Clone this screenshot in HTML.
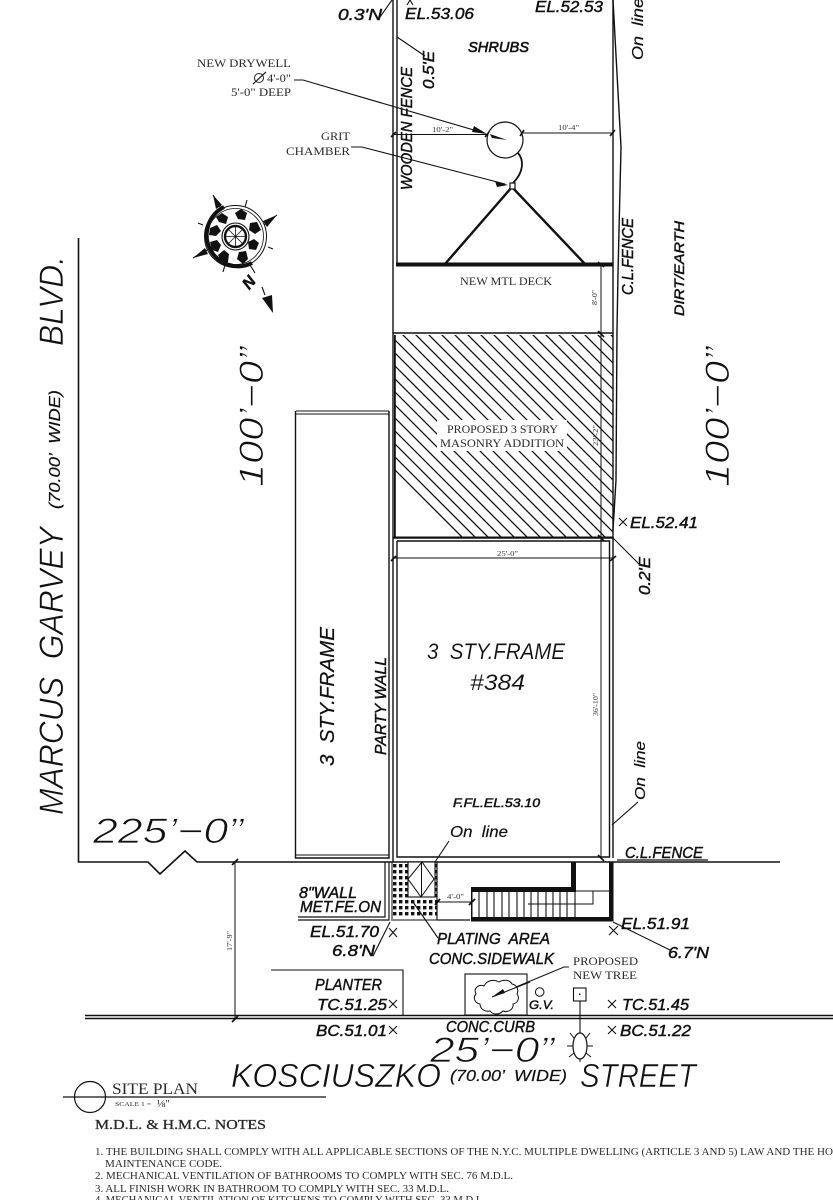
<!DOCTYPE html>
<html><head><meta charset="utf-8"><title>Site Plan</title>
<style>
html,body{margin:0;padding:0;background:#fff;width:833px;height:1200px;overflow:hidden}
svg{display:block}
text{white-space:pre}
.s{font-family:"Liberation Serif",serif;fill:#2a2a2a}
.i{font-family:"Liberation Sans",sans-serif;font-style:italic;fill:#111;stroke:#111;stroke-width:.45}
.l{font-family:"Liberation Sans",sans-serif;font-style:italic;fill:#111;stroke:#fff;stroke-width:.6}
.d{font-family:"Liberation Serif",serif;fill:#333;font-size:7px}
</style></head><body>
<svg width="833" height="1200" viewBox="0 0 833 1200" xmlns="http://www.w3.org/2000/svg">
<defs>
<clipPath id="hc"><rect x="395" y="335" width="218" height="202"/></clipPath>
<pattern id="dots" x="393" y="864" width="6" height="6" patternUnits="userSpaceOnUse"><rect width="3.4" height="3.4" fill="#111"/></pattern>
</defs>
<rect width="833" height="1200" fill="#fff"/>

<!-- property lines -->
<g fill="none" stroke="#111" stroke-width="1.4">
<path d="M393 0V538M397 0V264"/>
<path d="M613 0V333"/>
<path d="M613 0L621 147L618 273L617 330L616 480L613 530"/>
<path d="M393 333H613"/>
<path d="M613 333V538"/>
<path d="M78.500 238V862H148L160 874L185 851L197 862H780" stroke-width="1.600"/>
<path d="M296 411H389M296 414H389" stroke-width="1"/>
<path d="M295.500 411V858H389V411"/>
<path d="M295 855H389" stroke-width="1"/>
<path d="M393 538V862M397 541V857H609.500V541H397"/>
<path d="M393 538H613V858"/>
<path d="M85 1015.500H833M85 1018.500H833" stroke-width="1.500"/>
</g>

<!-- hatch -->
<g clip-path="url(#hc)" stroke="#111" stroke-width="1.300">
<path d="M125 200L505 580M138 200L518 580M151 200L531 580M164 200L544 580M177 200L557 580M190 200L570 580M203 200L583 580M216 200L596 580M229 200L609 580M242 200L622 580M255 200L635 580M268 200L648 580M281 200L661 580M294 200L674 580M307 200L687 580M320 200L700 580M333 200L713 580M346 200L726 580M359 200L739 580M372 200L752 580M385 200L765 580M398 200L778 580M411 200L791 580M424 200L804 580M437 200L817 580M450 200L830 580M463 200L843 580M476 200L856 580M489 200L869 580M502 200L882 580M515 200L895 580M528 200L908 580"/>
</g>
<rect x="394" y="335" width="1.800" height="202" fill="#111"/>
<rect x="437" y="420" width="130" height="31" fill="#fff"/>
<rect x="393" y="536.500" width="220" height="1.500" fill="#111"/>

<!-- deck and triangle -->
<rect x="396" y="262.500" width="217" height="4" fill="#111"/>
<path d="M445 264L512 187L585 264" fill="none" stroke="#111" stroke-width="2.400"/>
<rect x="510" y="183" width="5" height="6" fill="#fff" stroke="#111" stroke-width="1.200"/>
<circle cx="505" cy="140" r="18" fill="#fff" stroke="#111" stroke-width="1.200"/>
<path d="M518 153C524 160 524 172 513 183" fill="none" stroke="#111" stroke-width="1.800"/>

<!-- dimension lines -->
<g fill="none" stroke="#111" stroke-width="1">
<path d="M394 134.500H487M522 133H613"/>
<path d="M601 266V858"/>
<path d="M393 558H613"/>
<path d="M235 862V1019"/>
<path d="M391 137l5 -5M485 137l4 -5M520 136l4 -6M610 136l5 -6M598 262l6 5M598 331l6 6M598 535l6 6M391 561l5 -5M610 561l6 -5M232 865l6 -6M232 1022l6 -6M598 855l6 6" stroke-width="1.600"/>
</g>
<!-- leaders -->
<g fill="none" stroke="#111" stroke-width="1.100">
<path d="M294 80L303 80L484 133"/>
<path d="M351 147L362 147L505 184"/>
<path d="M397 37L425 56"/>
<path d="M380 17L392 0"/>
<path d="M407 5L410 0L413 5"/>
<path d="M613 538L640 565"/>
<path d="M449 841L435 862"/>
<path d="M612 825L638 802"/>
<path d="M390 922L373 956"/>
<path d="M413 902L438 938"/>
<path d="M613 922L670 950"/>
<path d="M492 997L564 967H569"/>
</g>
<path d="M487 134L472 132L474 126Z" fill="#111"/>
<path d="M508 185L495 181L497 187Z" fill="#111"/>
<path d="M507 140L490 134L492 138Z" fill="#111"/>

<!-- sidewalk block -->
<rect x="392" y="862" width="45" height="56" fill="url(#dots)"/>
<rect x="408" y="862" width="27" height="35" fill="#fff" stroke="#111" stroke-width="1.100"/>
<path d="M422 862L408 879L421 897L434 879ZM421.500 862V897" fill="none" stroke="#111" stroke-width="1"/>
<path d="M385 862V917H298M389 862V920H298" fill="none" stroke="#111" stroke-width="1.200"/>
<path d="M392 862V919M391 920H437" fill="none" stroke="#111" stroke-width="1"/>
<path d="M437 862V920M437 920H470" fill="none" stroke="#111" stroke-width="1.200"/>
<path d="M438 902H472" stroke="#111" stroke-width="1"/>
<path d="M435 905l5 -6M469 905l6 -6" stroke="#111" stroke-width="1.800"/>

<!-- stairs -->
<rect x="571" y="862" width="5" height="30" fill="#111"/>
<rect x="471" y="887" width="105" height="5" fill="#111"/>
<rect x="471" y="917" width="142" height="4.500" fill="#111"/>
<rect x="471" y="887" width="1.500" height="32" fill="#111"/>
<rect x="609" y="862" width="4.500" height="59.500" fill="#111"/>
<path d="M479 892V917M487 892V917M494 892V917M502 892V917M509 892V917M517 892V917M524 892V917M531 892V917M538 892V917M546 892V917M553 892V917M560 892V917M567 892V917M575 892V917" stroke="#111" stroke-width="1.100"/>
<path d="M575 891H609M593 891V904H528" fill="none" stroke="#111" stroke-width="1"/>

<!-- planter etc -->
<path d="M271 970H403V1015" fill="none" stroke="#111" stroke-width="1.100"/>
<rect x="465" y="974" width="62" height="41" fill="none" stroke="#111" stroke-width="1.100"/>
<path d="M480 1004c-6-1-7-7-4-10c-3-6 3-10 8-8c3-6 10-7 15-4c5-3 11-2 13 2c5 1 7 6 5 10c3 4 1 9-4 10c1 5-5 9-10 7c-4 4-10 4-13 0c-5 1-10-2-10-7z" fill="#fff" stroke="#111" stroke-width="1"/>
<path d="M492 997L530 982" stroke="#111" stroke-width="1.100"/>
<path d="M492 997L505 993L503 989Z" fill="#111"/>
<circle cx="539.700" cy="992" r="4.300" fill="#fff" stroke="#111" stroke-width="1"/>
<rect x="573.500" y="988" width="12.500" height="13" fill="#fff" stroke="#111" stroke-width="1.100"/>
<rect x="579" y="993.500" width="1.500" height="1.500" fill="#111"/>
<path d="M580 1001V1034" stroke="#111" stroke-width="1.100"/>
<ellipse cx="580" cy="1046" rx="7" ry="13" fill="#fff" stroke="#111" stroke-width="1.200"/>
<path d="M574 1038l-4-5M586 1038l4-5M574 1053l-5 4M586 1053l5 4M580 1059v3M573 1046h-6M587 1046h6" stroke="#111" stroke-width="1"/>

<!-- X marks -->
<g fill="none" stroke="#111" stroke-width="1.100">
<path d="M389 928l8 9m0-9l-8 9"/>
<path d="M609 926l9 9m0-9l-9 9"/>
<path d="M389 1000l8 8m0-8l-8 8"/>
<path d="M389 1026l8 8m0-8l-8 8"/>
<path d="M608 1000l8 8m0-8l-8 8"/>
<path d="M608 1026l8 8m0-8l-8 8"/>
<path d="M619 518l8 8m0-8l-8 8"/>
</g>

<!-- compass -->
<g>
<circle cx="235.500" cy="236.500" r="31" fill="none" stroke="#111" stroke-width="1"/>
<path d="M252 263A31 31 0 1 1 224 207" fill="none" stroke="#111" stroke-width="4"/>
<circle cx="235.500" cy="236.500" r="28" fill="none" stroke="#111" stroke-width=".8"/>
<circle cx="235.500" cy="236.500" r="13.500" fill="none" stroke="#111" stroke-width="1.100"/>
<circle cx="235.500" cy="236.500" r="10.500" fill="none" stroke="#111" stroke-width="2.400"/>
<path d="M235.500 226V247M225 236.500H246M228 229L243 244M243 229L228 244" stroke="#111" stroke-width=".8"/>
<g fill="#111">
<path d="M222 213l6 4l-2 7l-7-2l-3-5z"/><path d="M241 209l6 4l-2 7l-7-1l-3-6z"/><path d="M257 222l4 8l-6 4l-6-4l1-7z"/><path d="M259 243l-3 7l-7-1l-1-7l6-3z"/><path d="M248 259l-5 5l-6-5l2-7l7-1z"/><path d="M228 262l-7 0l-3-7l6-5l5 4z"/><path d="M212 250l-2-8l7-2l4 5l-3 7z"/><path d="M210 228l7-3l4 6l-5 5l-7-1z"/>
</g>
<path d="M213 195L222 210M277 215L264 225M193 258L207 250M247 200L245 207M198 223L203 225M268 247L273 249M225 265L223 272M250 265L255 273M262 287L265 295" stroke="#111" stroke-width="1.100"/>
<path d="M213 195L222 205L216 209Z M277 215L263 221L267 227Z M193 258L205 248L208 254Z" fill="#111"/>
<path d="M262 298L272 295L273 313Z" fill="#111"/>
<text class="i" font-size="16" font-weight="bold" text-anchor="middle" transform="translate(253,286) rotate(-50)">N</text>
</g>

<!-- serif labels -->
<g class="s" font-size="11.200">
<text x="197" y="67" textLength="94" lengthAdjust="spacingAndGlyphs">NEW DRYWELL</text>
<text x="267" y="82" textLength="24" lengthAdjust="spacingAndGlyphs">4'-0"</text>
<text x="231" y="96" textLength="60" lengthAdjust="spacingAndGlyphs">5'-0" DEEP</text>
<text x="321" y="140" textLength="29" lengthAdjust="spacingAndGlyphs">GRIT</text>
<text x="286" y="155" textLength="64" lengthAdjust="spacingAndGlyphs">CHAMBER</text>
<text x="460" y="285" textLength="92" lengthAdjust="spacingAndGlyphs">NEW MTL DECK</text>
<text x="447" y="433" textLength="111" lengthAdjust="spacingAndGlyphs">PROPOSED 3 STORY</text>
<text x="440" y="447" textLength="124" lengthAdjust="spacingAndGlyphs">MASONRY ADDITION</text>
<text x="573" y="965" textLength="65" lengthAdjust="spacingAndGlyphs">PROPOSED</text>
<text x="573" y="979" textLength="64" lengthAdjust="spacingAndGlyphs">NEW TREE</text>
</g>
<circle cx="259" cy="78" r="4.500" fill="none" stroke="#222" stroke-width="1"/>
<path d="M253 84L266 72" stroke="#222" stroke-width="1.200"/>

<!-- dim text -->
<g class="d">
<text x="432" y="132" textLength="21" lengthAdjust="spacingAndGlyphs">10'-2"</text>
<text x="558" y="130" textLength="21" lengthAdjust="spacingAndGlyphs">10'-4"</text>
<text x="497" y="556" textLength="21" lengthAdjust="spacingAndGlyphs">25'-0"</text>
<text x="447" y="899" textLength="17" lengthAdjust="spacingAndGlyphs">4'-0"</text>
<text transform="translate(597,305) rotate(-90)" textLength="15" lengthAdjust="spacingAndGlyphs">8'-0"</text>
<text transform="translate(598,446) rotate(-90)" textLength="21" lengthAdjust="spacingAndGlyphs">23'-2"</text>
<text transform="translate(598,716) rotate(-90)" textLength="23" lengthAdjust="spacingAndGlyphs">36'-10"</text>
<text transform="translate(232,951) rotate(-90)" textLength="20" lengthAdjust="spacingAndGlyphs">17'-9"</text>
</g>

<!-- italic labels medium -->
<g class="i" font-size="16">
<text x="338" y="20" textLength="44" lengthAdjust="spacingAndGlyphs">0.3'N</text>
<text x="405" y="19" textLength="69" lengthAdjust="spacingAndGlyphs">EL.53.06</text>
<text x="535" y="12" textLength="68" lengthAdjust="spacingAndGlyphs">EL.52.53</text>
<text x="468" y="52" font-size="15" stroke-width=".6" textLength="61" lengthAdjust="spacingAndGlyphs">SHRUBS</text>
<text transform="translate(643,60) rotate(-90)" stroke-width=".2" textLength="62" lengthAdjust="spacingAndGlyphs">On  line</text>
<text transform="translate(412,190) rotate(-90)" textLength="123" lengthAdjust="spacingAndGlyphs">WOODEN FENCE</text>
<text transform="translate(434,89) rotate(-90)" textLength="38" lengthAdjust="spacingAndGlyphs">0.5'E</text>
<text transform="translate(633,295) rotate(-90)" textLength="77" lengthAdjust="spacingAndGlyphs">C.L.FENCE</text>
<text transform="translate(684,316) rotate(-90)" font-size="14" textLength="95" lengthAdjust="spacingAndGlyphs">DIRT/EARTH</text>
<text x="630" y="528" textLength="68" lengthAdjust="spacingAndGlyphs">EL.52.41</text>
<text transform="translate(650,595) rotate(-90)" textLength="38" lengthAdjust="spacingAndGlyphs">0.2'E</text>
<text transform="translate(386,755) rotate(-90)" textLength="98" lengthAdjust="spacingAndGlyphs">PARTY WALL</text>
<text x="453" y="807" font-size="12" stroke-width=".5" textLength="87" lengthAdjust="spacingAndGlyphs">F.FL.EL.53.10</text>
<text x="450" y="837" stroke-width=".2" textLength="58" lengthAdjust="spacingAndGlyphs">On  line</text>
<text transform="translate(645,800) rotate(-90)" font-size="15" stroke-width=".2" textLength="59" lengthAdjust="spacingAndGlyphs">On  line</text>
<text x="625" y="858" textLength="78" lengthAdjust="spacingAndGlyphs">C.L.FENCE</text>
<text x="299" y="898" textLength="58" lengthAdjust="spacingAndGlyphs">8"WALL</text>
<text x="300" y="912" textLength="81" lengthAdjust="spacingAndGlyphs">MET.FE.ON</text>
<text x="310" y="937" textLength="69" lengthAdjust="spacingAndGlyphs">EL.51.70</text>
<text x="332" y="956" textLength="43" lengthAdjust="spacingAndGlyphs">6.8'N</text>
<text x="437" y="944" textLength="113" lengthAdjust="spacingAndGlyphs">PLATING  AREA</text>
<text x="429" y="964" textLength="125" lengthAdjust="spacingAndGlyphs">CONC.SIDEWALK</text>
<text x="621" y="929" textLength="69" lengthAdjust="spacingAndGlyphs">EL.51.91</text>
<text x="668" y="958" textLength="41" lengthAdjust="spacingAndGlyphs">6.7'N</text>
<text x="315" y="990" textLength="67" lengthAdjust="spacingAndGlyphs">PLANTER</text>
<text x="317" y="1010" textLength="70" lengthAdjust="spacingAndGlyphs">TC.51.25</text>
<text x="316" y="1036" textLength="71" lengthAdjust="spacingAndGlyphs">BC.51.01</text>
<text x="446" y="1032" textLength="89" lengthAdjust="spacingAndGlyphs">CONC.CURB</text>
<text x="529" y="1009" font-size="12" textLength="25" lengthAdjust="spacingAndGlyphs">G.V.</text>
<text x="622" y="1010" textLength="67" lengthAdjust="spacingAndGlyphs">TC.51.45</text>
<text x="620" y="1036" textLength="71" lengthAdjust="spacingAndGlyphs">BC.51.22</text>
</g>
<path d="M617 860H708" stroke="#111" stroke-width="1.200"/>

<!-- big text -->
<g class="l">
<text transform="translate(334,766) rotate(-90)" font-size="20" stroke="#111" stroke-width=".2" textLength="139" lengthAdjust="spacingAndGlyphs">3  STY.FRAME</text>
<text x="427" y="659" font-size="22" stroke-width=".1" textLength="138" lengthAdjust="spacingAndGlyphs">3  STY.FRAME</text>
<text x="470" y="690" font-size="22" stroke-width=".1" textLength="55" lengthAdjust="spacingAndGlyphs">#384</text>
<text transform="translate(263,487) rotate(-90)" font-size="34" stroke-width=".8" textLength="140" lengthAdjust="spacingAndGlyphs">100’−0”</text>
<text transform="translate(729,487) rotate(-90)" font-size="34" stroke-width=".8" textLength="140" lengthAdjust="spacingAndGlyphs">100’−0”</text>
<text transform="translate(63,815) rotate(-90)" font-size="34" textLength="288" lengthAdjust="spacingAndGlyphs">MARCUS  GARVEY</text>
<text transform="translate(60,509) rotate(-90)" font-size="16" stroke="#111" stroke-width=".2" textLength="119" lengthAdjust="spacingAndGlyphs">(70.00’  WIDE)</text>
<text transform="translate(63,346) rotate(-90)" font-size="34" textLength="90" lengthAdjust="spacingAndGlyphs">BLVD.</text>
<text x="93" y="843" font-size="35" stroke-width=".8" textLength="150" lengthAdjust="spacingAndGlyphs">225’−0”</text>
<text x="430" y="1062" font-size="35" stroke-width=".8" textLength="124" lengthAdjust="spacingAndGlyphs">25’−0”</text>
<text x="231" y="1087" font-size="33" textLength="210" lengthAdjust="spacingAndGlyphs">KOSCIUSZKO</text>
<text x="450" y="1081" font-size="16" stroke="#111" stroke-width=".2" textLength="117" lengthAdjust="spacingAndGlyphs">(70.00’  WIDE)</text>
<text x="580" y="1087" font-size="33" textLength="116" lengthAdjust="spacingAndGlyphs">STREET</text>
</g>

<!-- title block -->
<circle cx="90" cy="1097" r="15.500" fill="none" stroke="#111" stroke-width="1.200"/>
<path d="M63 1097H326" stroke="#111" stroke-width="1.200"/>
<text x="112" y="1094" class="s" font-size="16" textLength="86" lengthAdjust="spacingAndGlyphs">SITE PLAN</text>
<text x="115" y="1106" class="s" font-size="6.500" textLength="36" lengthAdjust="spacingAndGlyphs">SCALE 1 =</text>
<text x="157" y="1107" class="s" font-size="11">⅛"</text>
<text x="95" y="1129" class="s" font-size="14" stroke="#222" stroke-width=".3" textLength="171" lengthAdjust="spacingAndGlyphs">M.D.L. &amp; H.M.C. NOTES</text>
<g class="s" font-size="10.600">
<text x="95" y="1155" textLength="738" lengthAdjust="spacingAndGlyphs">1. THE BUILDING SHALL COMPLY WITH ALL APPLICABLE SECTIONS OF THE N.Y.C. MULTIPLE DWELLING (ARTICLE 3 AND 5) LAW AND THE HO</text>
<text x="105" y="1167" textLength="117" lengthAdjust="spacingAndGlyphs">MAINTENANCE CODE.</text>
<text x="95" y="1179" textLength="418" lengthAdjust="spacingAndGlyphs">2. MECHANICAL VENTILATION OF BATHROOMS TO COMPLY WITH SEC. 76 M.D.L.</text>
<text x="95" y="1192" textLength="354" lengthAdjust="spacingAndGlyphs">3. ALL FINISH WORK IN BATHROOM TO COMPLY WITH SEC. 33 M.D.L.</text>
<text x="95" y="1203" textLength="390" lengthAdjust="spacingAndGlyphs">4. MECHANICAL VENTILATION OF KITCHENS TO COMPLY WITH SEC. 33 M.D.L.</text>
</g>
</svg>
</body></html>
